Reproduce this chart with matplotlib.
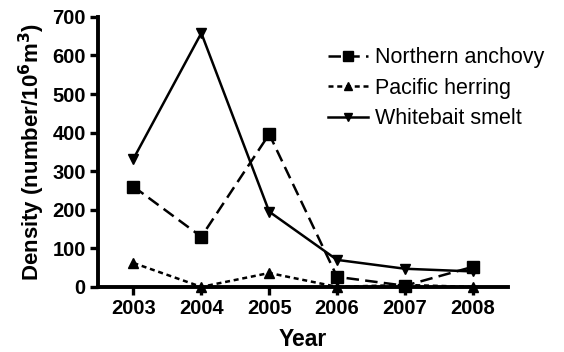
import matplotlib.pyplot as plt

years = [2003, 2004, 2005, 2006, 2007, 2008]
anchovy = [260, 130, 396, 26, 3, 52]
herring = [62, 0, 36, 0, 5, 0]
smelt = [332, 658, 195, 70, 47, 40]

plt.rcParams['font.family'] = ['Liberation Sans', 'DejaVu Sans']

fig = plt.figure(figsize=(5.64, 3.52), dpi=100)
ax = fig.add_axes([0.174, 0.185, 0.727, 0.767])

ax.plot(years, anchovy, color='black', lw=1.8, ls=(0, (5, 2.5)), marker='s', ms=8.5,
        label='Northern anchovy', clip_on=False)
ax.plot(years, herring, color='black', lw=1.8, ls=(0, (2, 1.5)), marker='^', ms=7.5,
        label='Pacific herring', clip_on=False)
ax.plot(years, smelt, color='black', lw=1.8, ls='-', marker='v', ms=7.5,
        label='Whitebait smelt', clip_on=False)

ax.set_xlim(2002.48, 2008.52)
ax.set_ylim(0, 700)
ax.set_xticks(years)
ax.set_yticks(range(0, 701, 100))

for s in ['top', 'right']:
    ax.spines[s].set_visible(False)
for s in ['left', 'bottom']:
    ax.spines[s].set_linewidth(2.8)
ax.tick_params(width=2.4, length=6, labelsize=14.5, pad=3)
for lab in ax.get_xticklabels() + ax.get_yticklabels():
    lab.set_fontweight('bold')

ax.set_xlabel('Year', fontsize=16.5, fontweight='bold', labelpad=7)
ax.set_ylabel('Density (number/10$^{\\mathbf{6}}$m$^{\\mathbf{3}}$)', fontsize=16,
              fontweight='bold', labelpad=4)

ax.legend(loc='upper right', bbox_to_anchor=(1.135, 0.96), frameon=False, fontsize=15.5,
          handlelength=1.9, handletextpad=0.3, labelspacing=0.45, markerscale=0.8)

fig.savefig('out.png', dpi=100)
